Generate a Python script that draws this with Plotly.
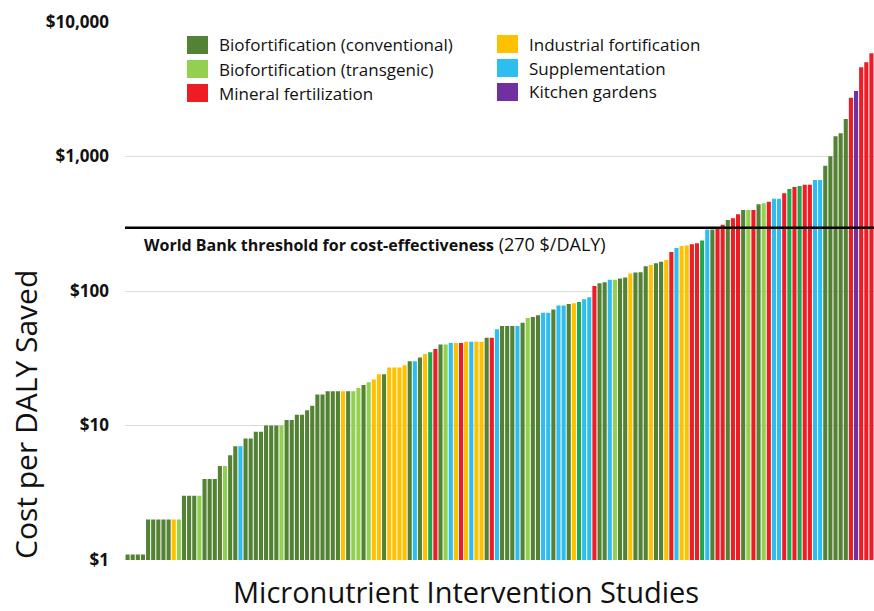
import plotly.graph_objects as go

# ---- data ----
values = [1.1, 1.1, 1.1, 1.1, 2, 2, 2, 2, 2, 2, 2, 3, 3, 3, 3, 4, 4, 4, 5, 5,
          6, 7, 7, 8, 8, 9, 9, 10, 10, 10, 10, 11, 11, 12, 12, 13, 14, 17, 17, 18,
          18, 18, 18, 18, 18, 19, 20, 21, 22, 24, 24, 27, 27, 27, 28, 30, 30, 32, 34, 35,
          37, 40, 40, 41, 41, 41, 42, 42, 42, 42, 45, 45, 52, 55, 55, 55, 55, 58, 63, 64,
          66, 69, 69, 73, 78, 78, 80, 81, 83, 87, 90, 109, 114, 116, 121, 121, 124, 126, 135, 137,
          138, 153, 156, 161, 165, 170, 195, 209, 216, 218, 223, 226, 237, 287, 287, 297, 311, 337, 347, 372,
          400, 400, 400, 441, 449, 461, 486, 486, 532, 573, 593, 603, 617, 617, 669, 669, 854, 1003, 1413, 1488,
          1900, 2735, 3069, 4604, 5012, 5850]

groups = ("CCCCCCCCCIT" "CCCT" "CCC" "CT" "CCS" "CC" "CC" "CCCT" "CC" "CC" "CC" "CC"
          "CCC" "ICTTCTI" "IC" "IIII" "CS" "CIG" "R" "CT" "SIR" "ISII" "CR" "S"
          "CCCS" "CTCC" "SSC" "SSCIG" "SS" "R" "CC" "ST" "CC" "ICC" "CICCI"
          "RSII" "RRG" "SCRR" "CRR" "CTR" "CTR" "SS" "RGRGRR" "SS" "CCCCC" "RPRRR")

labels = {
    "C": "Biofortification (conventional)",
    "T": "Biofortification (transgenic)",
    "R": "Mineral fertilization",
    "I": "Industrial fortification",
    "S": "Supplementation",
    "P": "Kitchen gardens",
}
colors = {"C": "#548235", "T": "#92d050", "R": "#ee1c24", "I": "#ffc000",
          "S": "#2dbdf0", "P": "#7030a0", "G": "#1fa84f"}

tick_vals = [1, 10, 100, 1000, 10000]
tick_text = ["$1", "$10", "$100", "$1,000", "$10,000"]
THRESHOLD = 295
threshold_label = ("<b>World Bank threshold for cost-effectiveness</b>"
                   "<span style='font-size:18px'> (270 $/DALY)</span>")
x_title = "Micronutrient Intervention Studies"
y_title = "Cost per DALY Saved"

assert len(values) == len(groups), (len(values), len(groups))

W, H = 874, 611
ML, MR, MT, MB = 125, 0, 22, 51
PW, PH = W - ML - MR, H - MT - MB


def px(x):
    return (x - ML) / PW


def py(y):
    return (H - MB - y) / PH


FONT = "Open Sans"

fig = go.Figure(go.Bar(
    x=list(range(len(values))), y=values,
    marker=dict(color=[colors[g] for g in groups], line=dict(width=0)),
    showlegend=False, hoverinfo="y",
))

fig.update_layout(
    width=W, height=H,
    margin=dict(l=ML, r=MR, t=MT, b=MB, pad=0),
    paper_bgcolor="white", plot_bgcolor="white",
    bargap=0.2,
    font=dict(family=FONT, color="#111111"),
    xaxis=dict(range=[-0.5, len(values) - 0.5], showticklabels=False,
               showgrid=False, zeroline=False, ticks=""),
    yaxis=dict(type="log", range=[0, 4], tickvals=tick_vals, ticktext=tick_text,
               showgrid=True, gridcolor="#dcdcdc", gridwidth=1, zeroline=False,
               ticks="", ticklabelstandoff=15,
               tickfont=dict(family=FONT, size=17, color="#111111", weight="bold")),
)

fig.add_hline(y=THRESHOLD, line=dict(color="black", width=2.5), layer="above")

# threshold label
fig.add_annotation(xref="paper", yref="paper", x=px(142), y=py(244),
                   xanchor="left", yanchor="middle", showarrow=False,
                   text=threshold_label, font=dict(family=FONT, size=16, color="#111111"))

# legend (manual)
legend_order = ["C", "T", "R", "I", "S", "P"]
pos = {"C": (187, 45), "T": (187, 69), "R": (187, 93),
       "I": (497, 44), "S": (497, 68), "P": (497, 92)}
for g in legend_order:
    x0, yc = pos[g]
    fig.add_shape(type="rect", xref="paper", yref="paper",
                  x0=px(x0), x1=px(x0 + 21), y0=py(yc + 9), y1=py(yc - 9),
                  fillcolor=colors[g], line=dict(width=0))
    fig.add_annotation(xref="paper", yref="paper", x=px(x0 + 30), y=py(yc),
                       xanchor="left", yanchor="middle", showarrow=False,
                       text=labels[g], font=dict(family=FONT, size=17, color="#111111"))

# axis titles
fig.add_annotation(xref="paper", yref="paper", x=px(466), y=py(591),
                   xanchor="center", yanchor="middle", showarrow=False,
                   text=x_title, font=dict(family=FONT, size=29, color="#111111"))
fig.add_annotation(xref="paper", yref="paper", x=px(25), y=py(415),
                   xanchor="center", yanchor="middle", showarrow=False, textangle=-90,
                   text=y_title, font=dict(family=FONT, size=30, color="#111111"))

fig.write_html("out.html", config={"displayModeBar": False},
               post_script="document.body.style.margin='0';")
